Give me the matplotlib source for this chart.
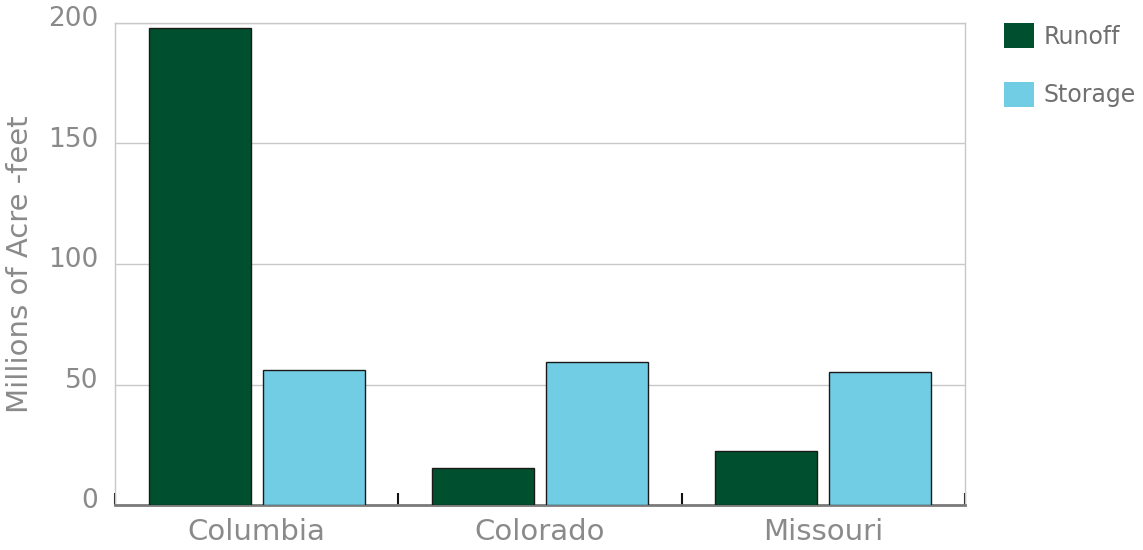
import numpy as np
import matplotlib.pyplot as plt
import matplotlib.transforms as mtransforms
from matplotlib.patches import Patch

rivers = ['Columbia', 'Colorado', 'Missouri']
runoff = [198, 15.5, 22.5]
storage = [56, 59.5, 55]
yticks = [0, 50, 100, 150, 200]

plt.rcParams['font.family'] = ['DejaVu Sans']
grey = '#8a8a8a'
green = '#00502f'
blue = '#71cde3'

fig = plt.figure(figsize=(11.43, 5.5), dpi=100)
ax = fig.add_axes([0.1006, 0.0818, 0.7437, 0.8764])

x = np.arange(len(rivers))
w = 0.36
gap = 0.042
ax.bar(x - (w + gap) / 2, runoff, w, color=green, edgecolor='#1a1a1a', linewidth=1, zorder=3)
ax.bar(x + (w + gap) / 2, storage, w, color=blue, edgecolor='#1a1a1a', linewidth=1, zorder=3)

ax.set_xlim(-0.5, 2.5)
ax.set_ylim(0, 200)
ax.set_yticks(yticks)
ax.set_yticklabels([str(v) for v in yticks])
ax.yaxis.grid(True, color='#c8c8c8', linewidth=1)
ax.set_axisbelow(True)

ax.set_xticks(x)
ax.set_xticklabels(rivers)
ax.set_xticks([-0.5, 0.5, 1.5, 2.5], minor=True)
ax.tick_params(axis='x', which='major', length=0, pad=9, labelsize=21, labelcolor=grey)
ax.tick_params(axis='x', which='minor', direction='in', length=9, width=1.5, color='#111111')
ax.tick_params(axis='y', length=0, pad=12, labelsize=19, labelcolor=grey)

# y labels sit slightly above their gridlines
offset = mtransforms.ScaledTranslation(0, 5 / 72, fig.dpi_scale_trans)
for lab in ax.get_yticklabels():
    lab.set_transform(lab.get_transform() + offset)

for s in ['left', 'right', 'top']:
    ax.spines[s].set_color('#c8c8c8')
    ax.spines[s].set_linewidth(1)
ax.spines['bottom'].set_color('#7a7a7a')
ax.spines['bottom'].set_linewidth(2)

ax.set_ylabel('Millions of Acre -feet', fontsize=21, color=grey, labelpad=10)

handles = [Patch(facecolor=green, edgecolor='none'), Patch(facecolor=blue, edgecolor='none')]
fig.legend(handles, ['Runoff', 'Storage'], loc='upper left', bbox_to_anchor=(0.86, 0.997), frameon=False,
           fontsize=17, labelcolor='#707070', handlelength=1.28, handleheight=1.28,
           labelspacing=1.4, handletextpad=0.4)

fig.savefig('out.png', dpi=100)
